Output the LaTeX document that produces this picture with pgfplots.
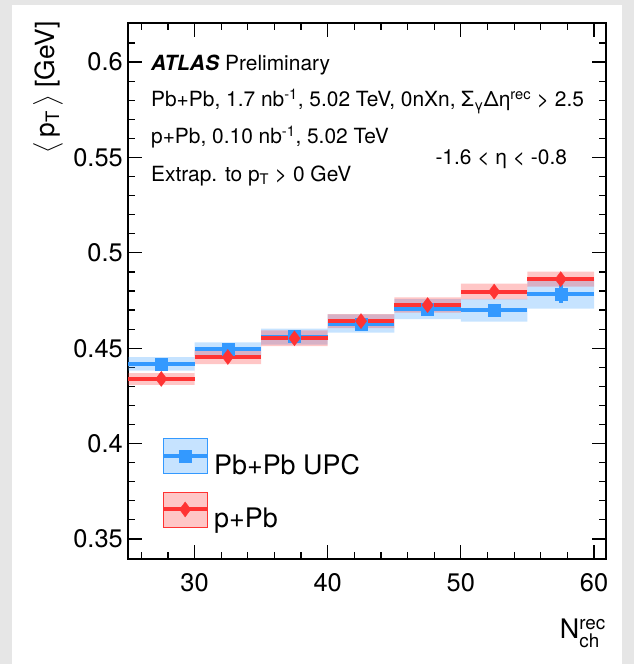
\documentclass[border=0pt]{standalone}
\usepackage{fontspec}
\setmainfont{TeX Gyre Heros}
\usepackage{amsmath}
\usepackage{pgfplots}
\pgfplotsset{compat=1.18}
\usepgfplotslibrary{fillbetween}
\usepackage{pgfplotstable}

\definecolor{pbblue}{HTML}{3399FF}
\definecolor{pbred}{HTML}{FF3333}
\definecolor{shotgray}{HTML}{E6E6E6}

\newcommand\bigfont{\fontsize{25.5}{30}\selectfont}
\newcommand\annot{\fontsize{21}{25}\selectfont}

% Pb+Pb UPC: bin centre, half width, mean pT, stat. error
\pgfplotstableread{
x ex y ey
27.5 2.5 0.4418 0.0015
32.5 2.5 0.4496 0.0015
37.5 2.5 0.4561 0.0015
42.5 2.5 0.4628 0.0015
47.5 2.5 0.4705 0.0015
52.5 2.5 0.4699 0.0020
57.5 2.5 0.4785 0.0048
}\pbpb

% Pb+Pb UPC systematic band (bin edges)
\pgfplotstableread{
x lo hi
25 0.4383 0.4453
30 0.4461 0.4531
35 0.4519 0.4603
40 0.4582 0.4678
45 0.4653 0.4757
50 0.4639 0.4759
55 0.4708 0.4862
60 0.4708 0.4862
}\pbpbsys

% p+Pb
\pgfplotstableread{
x ex y ey
27.5 2.5 0.4339 0.0020
32.5 2.5 0.4454 0.0020
37.5 2.5 0.4552 0.0020
42.5 2.5 0.4642 0.0020
47.5 2.5 0.4726 0.0020
52.5 2.5 0.4797 0.0020
57.5 2.5 0.4862 0.0020
}\ppb

\pgfplotstableread{
x lo hi
25 0.4308 0.4370
30 0.4417 0.4491
35 0.4511 0.4593
40 0.4605 0.4679
45 0.4686 0.4766
50 0.4756 0.4838
55 0.4823 0.4901
60 0.4823 0.4901
}\ppbsys

\begin{document}
\begin{tikzpicture}
% screenshot border
\path (-128bp,-105bp) rectangle (506bp,559bp);
\fill[shotgray] (-128bp,-105bp) rectangle (-116bp,559bp);
\fill[shotgray] (494bp,-105bp) rectangle (506bp,559bp);
\fill[shotgray] (-128bp,554bp) rectangle (506bp,559bp);
\begin{axis}[
  scale only axis,
  width=478bp, height=536bp,
  xmin=25, xmax=60.9,
  ymin=0.3395, ymax=0.6205,
  xtick={30,40,50,60},
  minor xtick={26,28,32,34,36,38,42,44,46,48,52,54,56,58},
  ytick={0.35,0.4,0.45,0.5,0.55,0.6},
  minor ytick={0.36,0.37,0.38,0.39,0.41,0.42,0.43,0.44,0.46,0.47,0.48,0.49,0.51,0.52,0.53,0.54,0.56,0.57,0.58,0.59,0.61},
  tick align=inside,
  major tick length=14bp,
  minor tick length=7bp,
  axis line style={line width=1.2bp},
  every tick/.style={black, line width=1.2bp},
  /pgf/number format/assume math mode=true,
  tick label style={font=\bigfont},
  xticklabel style={inner sep=0pt, yshift=-14bp},
  yticklabel style={inner sep=0pt, xshift=-5bp},
  xlabel={N$^{\text{rec}}_{\text{ch}}$},
  xlabel style={font=\fontsize{27}{30}\selectfont, at={(axis description cs:1,-0.112)}, anchor=north east, inner sep=0pt},
  ylabel={$\big\langle$\,p\textsubscript{T}\,$\big\rangle$ [GeV]},
  ylabel style={font=\fontsize{26.5}{30}\selectfont, at={(axis description cs:-0.1987,1.003)}, anchor=north east, inner sep=0pt},
  legend style={at={(axis description cs:0.069,0.2257)}, anchor=north west,
    draw=none, fill=none, inner sep=0pt, row sep=16bp,
    font=\fontsize{27}{30}\selectfont, nodes={inner sep=0pt}},
  legend cell align=left,
  /tikz/every odd column/.append style={column sep=5bp},
]
% Pb+Pb band
\addplot[name path=bL, draw=none, const plot, forget plot] table[x=x, y=lo] {\pbpbsys};
\addplot[name path=bH, draw=none, const plot, forget plot] table[x=x, y=hi] {\pbpbsys};
\addplot[fill=pbblue, fill opacity=0.28, draw=none, forget plot] fill between[of=bL and bH];
\addplot[pbblue, only marks, mark=square*, mark size=6bp,
  legend image code/.code={
    \fill[pbblue, fill opacity=0.28] (0bp,-8.5bp) rectangle (44bp,26.5bp);
    \draw[pbblue, line width=4bp] (0bp,9bp) -- (44bp,9bp);
    \fill[pbblue] (16bp,3bp) rectangle (28bp,15bp);
  },
  error bars/.cd, x dir=both, x explicit, y dir=both, y explicit,
  error mark=none, error bar style={line width=4bp, solid}]
  table[x=x, y=y, x error=ex, y error=ey] {\pbpb};
\addlegendentry{Pb+Pb UPC}
% p+Pb band
\addplot[name path=rL, draw=none, const plot, forget plot] table[x=x, y=lo] {\ppbsys};
\addplot[name path=rH, draw=none, const plot, forget plot] table[x=x, y=hi] {\ppbsys};
\addplot[fill=pbred, fill opacity=0.28, draw=none, forget plot] fill between[of=rL and rH];
\addplot[pbred, only marks, mark=diamond*, mark size=7.5bp,
  legend image code/.code={
    \fill[pbred, fill opacity=0.28] (0bp,-8.5bp) rectangle (44bp,26.5bp);
    \draw[pbred, line width=4bp] (0bp,9bp) -- (44bp,9bp);
    \fill[pbred] (22bp,16.5bp) -- (27.6bp,9bp) -- (22bp,1.5bp) -- (16.4bp,9bp) -- cycle;
  },
  error bars/.cd, x dir=both, x explicit, y dir=both, y explicit,
  error mark=none, error bar style={line width=4bp, solid}]
  table[x=x, y=y, x error=ex, y error=ey] {\ppb};
\addlegendentry{p+Pb}

\node[anchor=base west, font=\annot] at (axis description cs:0.041,0.9123)
  {\textbf{\textit{ATLAS}} Preliminary};
\node[anchor=base west, font=\annot] at (axis description cs:0.041,0.8433)
  {Pb+Pb, 1.7 nb\textsuperscript{-1}, 5.02 TeV, 0nXn, Σ\textsubscript{γ}Δη\textsuperscript{rec} > 2.5};
\node[anchor=base west, font=\annot] at (axis description cs:0.041,0.7743)
  {p+Pb, 0.10 nb\textsuperscript{-1}, 5.02 TeV};
\node[anchor=base west, font=\annot] at (axis description cs:0.041,0.7052)
  {Extrap. to p\textsubscript{T} > 0 GeV};
\node[anchor=base west, font=\annot] at (axis description cs:0.636,0.7351)
  {-1.6 < η < -0.8};
\end{axis}
\end{tikzpicture}
\end{document}
